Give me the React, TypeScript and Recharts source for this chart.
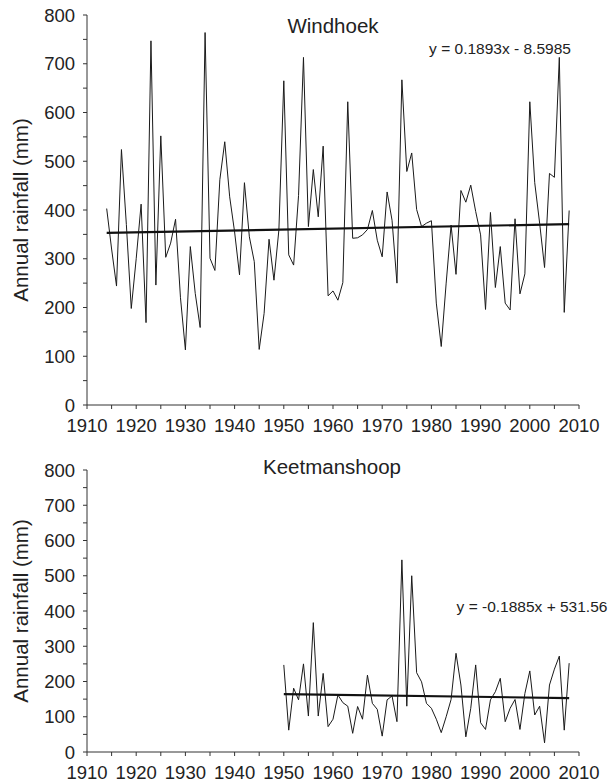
import { LineChart, Line, XAxis, YAxis } from "recharts";

// Windhoek annual rainfall (mm), one value per year from 1914
const windhoekStart = 1914;
const windhoekRain = [
  403, 320, 244, 524, 370, 198, 300, 412, 169, 747,
  246, 552, 303, 332, 381, 220, 113, 325, 229, 159,
  764, 301, 276, 462, 540, 427, 355, 267, 456, 345,
  294, 114, 188, 340, 256, 359, 665, 308, 287, 430,
  713, 366, 483, 386, 531, 224, 234, 215, 251, 622,
  342, 343, 349, 360, 399, 338, 304, 437, 379, 250,
  667, 479, 517, 401, 366, 373, 378, 209, 120, 250,
  369, 268, 440, 416, 451, 397, 349, 196, 395, 241,
  325, 209, 195, 382, 228, 269, 622, 456, 373, 282,
  475, 467, 713, 190, 399,
];
const windhoekTrendYears = [1914, 2008];
const windhoekTrendValues = [353, 371];

// Keetmanshoop annual rainfall (mm), one value per year from 1950
const keetStart = 1950;
const keetRain = [
  247, 62, 181, 148, 250, 102, 367, 102, 223, 72,
  93, 162, 140, 130, 53, 129, 93, 218, 138, 121,
  45, 148, 159, 86, 545, 130, 500, 225, 199, 138,
  124, 93, 55, 100, 149, 280, 190, 43, 124, 247,
  83, 64, 148, 171, 209, 86, 124, 149, 64, 166,
  230, 105, 130, 26, 190, 235, 272, 62, 252,
];
const keetTrendYears = [1950, 2008];
const keetTrendValues = [164, 153];

const xTicks = [
  1910, 1915, 1920, 1925, 1930, 1935, 1940, 1945, 1950, 1955, 1960,
  1965, 1970, 1975, 1980, 1985, 1990, 1995, 2000, 2005, 2010,
];
const yTicks = [
  0, 50, 100, 150, 200, 250, 300, 350, 400, 450, 500, 550, 600, 650, 700,
  750, 800,
];

const FONT = "'Liberation Sans', Arial, sans-serif";
const INK = "#222";

const buildRows = (
  start: number,
  rain: number[],
  tYears: number[],
  tValues: number[]
) =>
  rain.map((v, i) => {
    const year = start + i;
    const k = tYears.indexOf(year);
    return { year, rain: v, trend: k >= 0 ? tValues[k] : null };
  });

const YTitle = ({ cy }: { cy: number }) => (
  <text
    x={20}
    y={cy}
    transform={`rotate(-90 20 ${cy})`}
    textAnchor="middle"
    dominantBaseline="central"
    fontFamily={FONT}
    fontSize={20.5}
    fill={INK}
  >
    Annual rainfall (mm)
  </text>
);

const RainChart = ({
  rows,
  height,
  marginTop,
  marginBottom,
  titleY,
}: {
  rows: any[];
  height: number;
  marginTop: number;
  marginBottom: number;
  titleY: number;
}) => (
  <LineChart
    width={612}
    height={height}
    data={rows}
    margin={{ top: marginTop, right: 33, left: 0, bottom: marginBottom }}
    style={{ fontFamily: FONT }}
  >
    <XAxis
      dataKey="year"
      type="number"
      domain={[1910, 2010]}
      ticks={xTicks}
      interval={0}
      tickFormatter={(v: number) => (v % 10 === 0 ? String(v) : "")}
      tickSize={4}
      tickMargin={10}
      height={30}
      stroke="#333"
      tick={{ fill: INK, fontSize: 18.5 }}
    />
    <YAxis
      type="number"
      domain={[0, 800]}
      ticks={yTicks}
      interval={0}
      tickFormatter={(v: number) => (v % 100 === 0 ? String(v) : "")}
      width={87}
      tickSize={4}
      tickMargin={8}
      stroke="#333"
      tick={{ fill: INK, fontSize: 18.5 }}
      label={<YTitle cy={titleY} />}
    />
    <Line
      dataKey="rain"
      type="linear"
      stroke="#1a1a1a"
      strokeWidth={1}
      dot={false}
      activeDot={false}
      isAnimationActive={false}
    />
    <Line
      dataKey="trend"
      type="linear"
      stroke="#111"
      strokeWidth={2.2}
      dot={false}
      activeDot={false}
      connectNulls
      isAnimationActive={false}
    />
  </LineChart>
);

const note = (text: string, cx: number, cy: number, size: number) => (
  <div
    style={{
      position: "absolute",
      left: cx,
      top: cy,
      transform: "translate(-50%, -50%)",
      fontFamily: FONT,
      fontSize: size,
      color: INK,
      whiteSpace: "nowrap",
      lineHeight: 1,
    }}
  >
    {text}
  </div>
);

export default function App() {
  const wRows = buildRows(
    windhoekStart,
    windhoekRain,
    windhoekTrendYears,
    windhoekTrendValues
  );
  const kRows = buildRows(keetStart, keetRain, keetTrendYears, keetTrendValues);

  return (
    <div
      style={{
        position: "absolute",
        left: 0,
        top: 0,
        width: 612,
        height: 783,
        background: "#fff",
      }}
    >
      <div style={{ position: "absolute", left: 0, top: 0 }}>
        <RainChart
          rows={wRows}
          height={440}
          marginTop={15}
          marginBottom={5}
          titleY={210}
        />
      </div>
      <div style={{ position: "absolute", left: 0, top: 440 }}>
        <RainChart
          rows={kRows}
          height={343}
          marginTop={30}
          marginBottom={1}
          titleY={171}
        />
      </div>
      {note("Windhoek", 333, 26, 20.5)}
      {note("y = 0.1893x - 8.5985", 500, 49, 15.5)}
      {note("Keetmanshoop", 332, 467, 20.5)}
      {note("y = -0.1885x + 531.56", 532, 607, 15.5)}
    </div>
  );
}
